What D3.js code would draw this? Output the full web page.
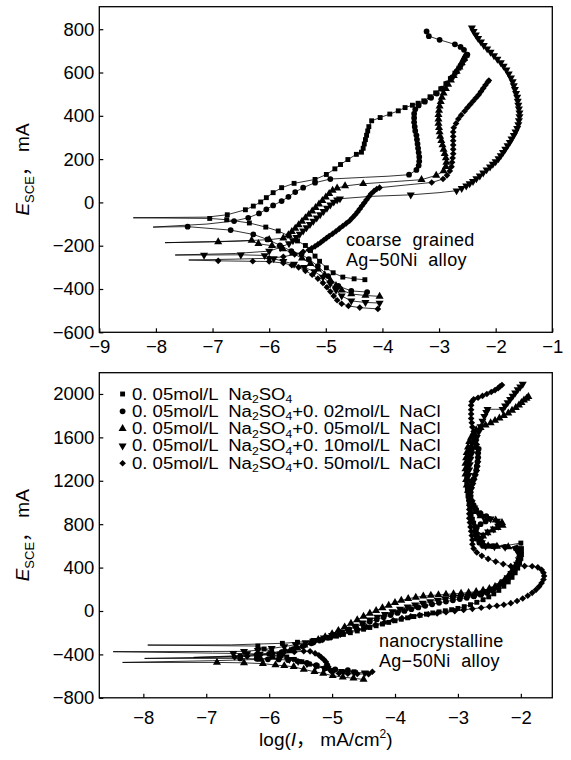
<!DOCTYPE html>
<html><head><meta charset="utf-8">
<script src="https://cdn.jsdelivr.net/npm/d3@7"></script>
<style>
body{margin:0;background:#fff}
svg{display:block}
text{font-family:"Liberation Sans",Arial,"Noto Sans CJK SC",sans-serif;fill:#000}
</style>
</head><body>
<svg id="chart" width="571" height="760"></svg>
<script>
// ---------- tick labels ----------
const topXTicks = [-9,-8,-7,-6,-5,-4,-3,-2,-1];
const topYTicks = [-600,-400,-200,0,200,400,600,800];
const botXTicks = [-8,-7,-6,-5,-4,-3,-2];
const botYTicks = [-800,-400,0,400,800,1200,1600,2000];

// ---------- legend ----------
const legendConc = ["", "+0. 02mol/L  NaCl", "+0. 05mol/L  NaCl", "+0. 10mol/L  NaCl", "+0. 50mol/L  NaCl"];
const symbolTypes = ["square","circle","up","down","diamond"];

// ---------- coarse grained (top) [logI, E, (0 = no marker)] ----------
const coarseSquare = [[-4.31,-357],[-4.5,-353],[-4.7,-345],[-4.87,-325],[-4.99,-302],[-5.11,-272],[-5.19,-248],[-5.27,-222],[-5.36,-199],[-5.5,-178],[-5.65,-155],[-5.84,-132],[-6.06,-114],[-6.35,-95],[-6.75,-80],[-7.05,-74],[-8.4,-71,0],[-7.1,-68,0],[-6.74,-57],[-6.42,-34],[-6.28,-17],[-6.15,2],[-6.05,22],[-5.93,45],[-5.78,68],[-5.56,88],[-5.19,106],[-4.99,129],[-4.84,155],[-4.74,175],[-4.61,198],[-4.46,222],[-4.37,232],[-4.34,250],[-4.32,270],[-4.3,290],[-4.28,310],[-4.26,330],[-4.24,350],[-4.19,377],[-4.04,392],[-3.87,408],[-3.72,423],[-3.6,438],[-3.47,449],[-3.37,458],[-3.27,469],[-3.16,488],[-3.06,506],[-2.97,525],[-2.88,548],[-2.8,572],[-2.72,597],[-2.65,620],[-2.59,643],[-2.54,665],[-2.51,680]];
const coarseCircle = [[-4.27,-414],[-4.55,-409],[-4.78,-386],[-4.96,-340],[-5.14,-294],[-5.3,-262],[-5.43,-240],[-5.61,-225],[-5.81,-198],[-6.03,-171],[-6.28,-148],[-6.68,-128],[-7.44,-112],[-8.05,-114,0],[-7.1,-100,0],[-6.62,-86],[-6.37,-71],[-6.18,-51],[-6.05,-32],[-5.93,-14],[-5.78,6],[-5.66,26],[-5.54,48],[-5.4,68],[-5.19,91],[-4.92,108],[-4.3,116,0],[-3.9,121,0],[-3.53,128],[-3.4,150],[-3.36,170],[-3.35,190],[-3.35,210],[-3.36,230],[-3.37,250],[-3.38,270],[-3.39,290],[-3.4,310],[-3.42,330],[-3.43,350],[-3.44,370],[-3.44,390],[-3.44,410],[-3.42,430],[-3.36,448],[-3.25,465],[-3.14,483],[-3.04,503],[-2.95,525],[-2.86,550],[-2.77,578],[-2.69,605],[-2.62,632],[-2.56,658],[-2.5,683],[-2.56,705],[-2.62,718],[-2.72,730],[-2.99,751],[-3.18,768],[-3.22,790]];
const coarseUp = [[-4.05,-434],[-4.3,-430],[-4.55,-423],[-4.72,-405],[-4.82,-385],[-4.92,-360],[-5.02,-335],[-5.14,-308],[-5.27,-283],[-5.42,-258],[-5.58,-235],[-5.76,-215],[-5.95,-200],[-6.19,-191],[-6.31,-176],[-6.9,-182],[-7.84,-186,0],[-6.5,-178,0],[-6.0,-172],[-5.75,-165],[-5.66,-150],[-5.6,-135],[-5.54,-120],[-5.48,-104],[-5.42,-88],[-5.36,-72],[-5.3,-56],[-5.24,-40],[-5.18,-24],[-5.12,-8],[-5.06,8],[-5.0,24],[-4.94,40],[-4.88,55],[-4.8,66],[-4.66,76],[-4.34,86],[-3.8,96,0],[-3.31,105],[-3.05,125],[-2.92,145],[-2.88,165],[-2.87,185],[-2.88,205],[-2.9,225],[-2.92,245],[-2.94,265],[-2.96,285],[-2.98,305],[-2.99,325],[-3.0,345],[-3.01,365],[-3.01,385],[-3.01,405],[-3.0,425],[-2.99,445],[-2.97,465],[-2.95,485],[-2.92,505],[-2.88,525],[-2.84,545],[-2.79,565],[-2.74,585],[-2.69,605],[-2.64,625],[-2.6,645],[-2.56,665],[-2.53,680]];
const coarseDown = [[-4.05,-465],[-4.3,-462],[-4.55,-455],[-4.72,-432],[-4.82,-405],[-4.92,-375],[-5.05,-345],[-5.2,-320],[-5.38,-300],[-5.56,-285],[-5.75,-272],[-5.92,-260],[-6.08,-245],[-6.5,-242],[-7.15,-243],[-7.66,-243,0],[-6.6,-236,0],[-6.0,-225],[-5.8,-208],[-5.65,-190],[-5.58,-176],[-5.52,-161],[-5.46,-146],[-5.4,-131],[-5.34,-116],[-5.28,-101],[-5.22,-86],[-5.16,-71],[-5.1,-56],[-5.04,-41],[-4.98,-26],[-4.92,-11],[-4.86,2],[-4.8,12],[-4.75,17],[-4.2,28,0],[-3.5,35],[-3.0,45,0],[-2.69,54],[-2.6,65],[-2.52,77],[-2.46,87],[-2.4,97],[-2.34,110],[-2.28,123],[-2.22,137],[-2.16,151],[-2.1,164],[-2.05,177],[-2.0,189],[-1.95,202],[-1.91,216],[-1.87,231],[-1.83,246],[-1.79,262],[-1.75,278],[-1.72,294],[-1.68,310],[-1.65,326],[-1.62,342],[-1.6,360],[-1.59,378],[-1.58,396],[-1.58,414],[-1.59,432],[-1.6,450],[-1.61,468],[-1.62,486],[-1.64,504],[-1.66,522],[-1.68,540],[-1.7,558],[-1.73,576],[-1.77,594],[-1.81,612],[-1.86,630],[-1.91,646],[-1.97,662],[-2.03,678],[-2.09,694],[-2.15,710],[-2.21,726],[-2.26,742],[-2.31,758],[-2.35,774],[-2.39,790],[-2.42,806]];
const coarseDiamond = [[-4.08,-492],[-4.4,-486],[-4.6,-478],[-4.72,-468],[-4.8,-452],[-4.86,-432],[-4.92,-412],[-4.98,-392],[-5.05,-372],[-5.14,-352],[-5.24,-334],[-5.36,-316],[-5.48,-300],[-5.6,-290],[-5.75,-280],[-6.0,-273],[-6.29,-272],[-6.9,-270],[-7.42,-266,0],[-6.6,-262,0],[-6.0,-258],[-5.75,-251],[-5.55,-240],[-5.4,-228],[-5.3,-220],[-5.25,-212],[-5.19,-203],[-5.14,-194],[-5.09,-185],[-5.04,-175],[-4.99,-165],[-4.94,-155],[-4.88,-145],[-4.82,-133],[-4.76,-121],[-4.7,-109],[-4.64,-97],[-4.58,-85],[-4.53,-71],[-4.48,-57],[-4.44,-44],[-4.4,-30],[-4.36,-16],[-4.32,-2],[-4.28,12],[-4.24,26],[-4.2,40],[-4.15,52],[-4.1,62],[-4.05,68],[-3.6,80,0],[-3.13,92],[-2.93,108],[-2.86,125],[-2.81,145],[-2.78,165],[-2.77,185],[-2.76,205],[-2.75,225],[-2.75,245],[-2.75,265],[-2.75,285],[-2.75,305],[-2.75,325],[-2.74,345],[-2.7,365],[-2.66,385],[-2.61,403],[-2.55,421],[-2.5,437],[-2.45,452],[-2.4,467],[-2.35,482],[-2.3,497],[-2.26,512],[-2.22,527],[-2.18,542],[-2.14,556],[-2.12,563]];

// ---------- nanocrystalline (bottom) ----------
const nanoSquare = [[-4.65,-560],[-4.85,-557],[-5.0,-547],[-5.12,-530],[-5.24,-510],[-5.36,-490],[-5.48,-468],[-5.6,-446],[-5.72,-424],[-5.84,-400],[-5.96,-375],[-6.08,-350],[-6.18,-323],[-7.93,-314,0],[-6.6,-312,0],[-5.79,-298],[-5.55,-288],[-5.32,-277],[-5.18,-263],[-5.05,-248],[-4.93,-232],[-4.82,-216],[-4.71,-200],[-4.6,-184],[-4.5,-168],[-4.4,-152],[-4.3,-136],[-4.2,-120],[-4.1,-105],[-4.0,-90],[-3.9,-76],[-3.8,-63],[-3.7,-51],[-3.6,-40],[-3.5,-29],[-3.4,-18],[-3.3,-8],[-3.2,2],[-3.1,12],[-3.0,24],[-2.9,40],[-2.8,58],[-2.7,80],[-2.6,104],[-2.51,130],[-2.43,158],[-2.35,190],[-2.27,228],[-2.2,268],[-2.14,310],[-2.09,352],[-2.05,395],[-2.02,440],[-2.0,485],[-1.99,530],[-1.99,575],[-2.0,626],[-2.2,606,0],[-2.4,600],[-2.52,598],[-2.6,605],[-2.64,635],[-2.67,670],[-2.69,705],[-2.71,740],[-2.73,775],[-2.75,810],[-2.77,845],[-2.79,880],[-2.8,915],[-2.81,950],[-2.82,990],[-2.83,1030],[-2.84,1070],[-2.85,1110],[-2.85,1150],[-2.86,1190],[-2.86,1230],[-2.86,1270],[-2.86,1310],[-2.85,1350],[-2.84,1390],[-2.83,1430],[-2.81,1470],[-2.79,1510],[-2.77,1550],[-2.75,1590],[-2.74,1630]];
const nanoCircle = [[-4.75,-545],[-4.95,-538],[-5.1,-522],[-5.25,-500],[-5.4,-478],[-5.55,-462],[-5.7,-452],[-5.85,-447],[-6.02,-445],[-6.2,-441],[-6.46,-437],[-7.98,-437,0],[-6.9,-425,0],[-6.46,-415],[-6.2,-405],[-6.0,-395],[-5.8,-378],[-5.62,-352],[-5.47,-325],[-5.33,-298],[-5.2,-272],[-5.07,-246],[-4.95,-220],[-4.84,-195],[-4.73,-170],[-4.62,-146],[-4.51,-122],[-4.4,-100],[-4.29,-78],[-4.18,-57],[-4.07,-37],[-3.96,-18],[-3.85,0],[-3.74,17],[-3.63,33],[-3.52,48],[-3.41,62],[-3.3,75],[-3.19,87],[-3.08,99],[-2.97,110],[-2.86,122],[-2.75,135],[-2.64,150],[-2.54,168],[-2.45,190],[-2.36,218],[-2.28,250],[-2.21,287],[-2.15,327],[-2.1,370],[-2.06,415],[-2.03,460],[-2.02,505],[-2.03,550],[-2.08,580],[-2.25,592],[-2.45,597],[-2.6,600],[-2.66,630],[-2.7,665],[-2.72,700],[-2.72,735],[-2.7,770],[-2.64,800],[-2.56,825],[-2.5,850],[-2.55,875],[-2.64,900],[-2.71,935],[-2.75,975],[-2.78,1015],[-2.8,1055],[-2.8,1095],[-2.79,1135],[-2.77,1175],[-2.75,1215],[-2.73,1255],[-2.71,1295],[-2.7,1335],[-2.69,1375],[-2.68,1415],[-2.68,1455],[-2.67,1495]];
const nanoUp = [[-4.5,-631],[-4.66,-620],[-4.83,-609],[-4.99,-597],[-5.14,-575],[-5.28,-560],[-5.45,-538],[-5.61,-514],[-5.76,-505],[-5.9,-498],[-6.1,-485],[-6.4,-478],[-6.83,-474],[-8.33,-474,0],[-6.9,-458,0],[-6.13,-446],[-5.95,-420],[-5.8,-395],[-5.67,-368],[-5.55,-342],[-5.44,-316],[-5.33,-290],[-5.22,-264],[-5.11,-238],[-5.0,-210],[-4.9,-180],[-4.8,-148],[-4.7,-115],[-4.6,-82],[-4.5,-50],[-4.4,-22],[-4.3,4],[-4.2,28],[-4.1,52],[-4.0,76],[-3.9,97],[-3.79,113],[-3.67,126],[-3.55,136],[-3.43,143],[-3.31,148],[-3.19,153],[-3.07,158],[-2.95,163],[-2.83,170],[-2.71,178],[-2.6,190],[-2.5,205],[-2.41,225],[-2.33,252],[-2.26,285],[-2.2,320],[-2.15,360],[-2.1,400],[-2.06,440],[-2.03,480],[-2.01,520],[-2.02,555],[-2.06,578],[-2.2,590],[-2.38,596],[-2.52,600],[-2.6,615],[-2.63,650],[-2.6,690],[-2.53,720],[-2.45,745],[-2.37,768],[-2.29,788],[-2.3,815],[-2.4,838],[-2.53,852],[-2.64,875],[-2.72,915],[-2.77,960],[-2.8,1010],[-2.82,1060],[-2.84,1110],[-2.86,1160],[-2.87,1210],[-2.88,1260],[-2.88,1310],[-2.88,1360],[-2.87,1410],[-2.86,1460],[-2.84,1510],[-2.82,1560],[-2.79,1600],[-2.75,1640],[-2.71,1669],[-2.64,1690],[-2.56,1712],[-2.48,1733],[-2.41,1755],[-2.34,1778],[-2.27,1800],[-2.2,1823],[-2.14,1848],[-2.08,1873],[-2.03,1897],[-1.99,1920],[-1.95,1943],[-1.91,1960],[-1.88,1975]];
const nanoDown = [[-4.48,-569],[-4.65,-567],[-4.82,-561],[-4.98,-548],[-5.12,-530],[-5.26,-508],[-5.4,-486],[-5.54,-465],[-5.68,-445],[-5.82,-425],[-5.96,-408],[-6.15,-397],[-6.35,-393],[-6.57,-391],[-8.48,-375,0],[-6.9,-373,0],[-6.4,-372],[-6.18,-362],[-5.96,-345],[-5.76,-328],[-5.58,-310],[-5.42,-290],[-5.27,-270],[-5.13,-248],[-5.0,-224],[-4.88,-198],[-4.76,-170],[-4.64,-140],[-4.52,-110],[-4.4,-82],[-4.28,-55],[-4.16,-30],[-4.04,-6],[-3.92,17],[-3.8,38],[-3.68,57],[-3.56,73],[-3.44,87],[-3.32,99],[-3.2,109],[-3.08,118],[-2.96,127],[-2.84,137],[-2.72,149],[-2.61,163],[-2.51,181],[-2.42,205],[-2.34,235],[-2.27,270],[-2.21,308],[-2.15,348],[-2.1,390],[-2.06,432],[-2.03,474],[-2.02,515],[-2.03,552],[-2.08,576],[-2.25,588],[-2.42,594],[-2.56,599],[-2.62,630],[-2.64,665],[-2.6,700],[-2.52,730],[-2.43,758],[-2.36,782],[-2.33,805],[-2.38,828],[-2.48,850],[-2.6,873],[-2.68,905],[-2.74,950],[-2.78,1000],[-2.81,1050],[-2.82,1100],[-2.83,1150],[-2.83,1200],[-2.83,1250],[-2.82,1300],[-2.81,1350],[-2.8,1400],[-2.78,1450],[-2.76,1500],[-2.73,1550],[-2.7,1600],[-2.67,1650],[-2.64,1700],[-2.61,1750],[-2.58,1795],[-2.55,1830],[-2.53,1859],[-2.4,1859,0],[-2.29,1859],[-2.25,1890],[-2.21,1920],[-2.17,1950],[-2.13,1980],[-2.09,2010],[-2.05,2040],[-2.01,2066],[-1.97,2092]];
const nanoDiamond = [[-4.36,-560],[-4.42,-582],[-4.6,-580],[-4.75,-578],[-4.89,-575],[-5.0,-565],[-5.04,-540],[-5.06,-515],[-5.08,-490],[-5.1,-468],[-5.13,-448],[-5.17,-428],[-5.21,-408],[-5.27,-390],[-5.35,-372],[-5.45,-370],[-5.6,-378],[-5.78,-390],[-5.96,-400],[-6.15,-410],[-6.35,-418],[-6.55,-425],[-7.2,-428,0],[-6.6,-415,0],[-6.2,-400],[-5.95,-385],[-5.75,-362],[-5.58,-338],[-5.43,-314],[-5.29,-290],[-5.15,-266],[-5.01,-242],[-4.87,-218],[-4.73,-194],[-4.59,-170],[-4.45,-148],[-4.31,-126],[-4.17,-105],[-4.03,-85],[-3.89,-66],[-3.75,-50],[-3.61,-38],[-3.47,-30],[-3.33,-22],[-3.19,-12],[-3.05,-1],[-2.91,10],[-2.77,20],[-2.63,30],[-2.5,40],[-2.38,48],[-2.27,57],[-2.16,72],[-2.06,92],[-1.97,115],[-1.89,140],[-1.82,167],[-1.76,195],[-1.71,225],[-1.67,257],[-1.64,290],[-1.63,322],[-1.64,352],[-1.67,380],[-1.73,402],[-1.82,412],[-1.94,414],[-2.06,412],[-2.16,413],[-2.28,432],[-2.4,455],[-2.52,480],[-2.62,508],[-2.7,540],[-2.75,575],[-2.77,615],[-2.77,655],[-2.78,695],[-2.79,735],[-2.8,775],[-2.81,815],[-2.82,855],[-2.82,895],[-2.82,935],[-2.82,975],[-2.82,1015],[-2.81,1055],[-2.8,1095],[-2.78,1135],[-2.76,1175],[-2.74,1215],[-2.72,1255],[-2.7,1295],[-2.69,1335],[-2.68,1375],[-2.68,1415],[-2.68,1455],[-2.69,1495],[-2.7,1535],[-2.71,1575],[-2.73,1615],[-2.75,1655],[-2.77,1695],[-2.78,1735],[-2.79,1775],[-2.79,1815],[-2.79,1855],[-2.79,1895],[-2.78,1930],[-2.75,1951],[-2.68,1965],[-2.61,1982],[-2.54,2000],[-2.47,2018],[-2.41,2036],[-2.36,2054],[-2.33,2070],[-2.3,2083]];

const topSeries = [coarseSquare, coarseCircle, coarseUp, coarseDown, coarseDiamond];
const botSeries = [nanoSquare, nanoCircle, nanoUp, nanoDown, nanoDiamond];

// ---------- drawing ----------
const svg = d3.select("#chart");
const minus = d => d < 0 ? "\u2212" + Math.abs(d) : String(d);
const LEFT = 99.3, RIGHT = 552.3;

function symbolPath(type) {
  if (type === "square") return d3.symbol(d3.symbolSquare, 24)();
  if (type === "circle") return d3.symbol(d3.symbolCircle, 26)();
  if (type === "up" || type === "down") return d3.symbol(d3.symbolTriangle, 28)();
  return d3.symbol(d3.symbolSquare, 22)();
}
function symbolRot(type) {
  if (type === "down") return " rotate(180)";
  if (type === "diamond") return " rotate(45)";
  return "";
}

function panel(cfg) {
  const x = d3.scaleLinear().domain(cfg.xDomain).range([LEFT, RIGHT]);
  const y = d3.scaleLinear().domain(cfg.yDomain).range([cfg.bottom, cfg.top]);
  const g = svg.append("g");

  const xa = g.append("g").attr("transform", `translate(0,${cfg.bottom})`)
    .call(d3.axisBottom(x).tickValues(cfg.xTicks).tickSize(-4).tickPadding(cfg.xPad).tickFormat(minus));
  const ya = g.append("g").attr("transform", `translate(${LEFT},0)`)
    .call(d3.axisLeft(y).tickValues(cfg.yTicks).tickSize(-4).tickPadding(5).tickFormat(minus));
  [xa, ya].forEach(a => {
    a.select(".domain").remove();
    a.selectAll("line").attr("stroke", "#000").attr("stroke-width", 1.2);
    a.selectAll("text").attr("font-size", 18.5).attr("font-family", "Liberation Sans, Arial, sans-serif").attr("fill", "#000");
  });

  g.append("rect").attr("x", LEFT).attr("y", cfg.top)
    .attr("width", RIGHT - LEFT).attr("height", cfg.bottom - cfg.top)
    .attr("fill", "none").attr("stroke", "#000").attr("stroke-width", 1.3);

  const line = d3.line().x(d => x(d[0])).y(d => y(d[1]));
  cfg.series.forEach((data, i) => {
    g.append("path").attr("d", line(data)).attr("fill", "none")
      .attr("stroke", "#000").attr("stroke-width", 0.8);
    const t = symbolTypes[i];
    g.append("g").selectAll("path").data(data.filter(d => d[2] !== 0)).join("path")
      .attr("d", symbolPath(t))
      .attr("transform", d => `translate(${x(d[0])},${y(d[1])})` + symbolRot(t))
      .attr("fill", "#000");
  });

  // y axis title
  const yt = g.append("text")
    .attr("transform", `translate(29,${(cfg.top + cfg.bottom) / 2}) rotate(-90)`)
    .attr("text-anchor", "middle").attr("font-size", 19).style("white-space", "pre");
  yt.append("tspan").attr("font-style", "italic").text("E");
  yt.append("tspan").attr("font-size", 13).attr("dy", 5).text("SCE");
  yt.append("tspan").attr("dy", -5).text("\uFF0C mA");

  // annotation
  cfg.note.forEach((s, k) => {
    g.append("text").attr("x", cfg.noteX).attr("y", cfg.noteY + k * 20)
      .attr("font-size", 18).attr("letter-spacing", 0.3).style("white-space", "pre").text(s);
  });
  return {x, y, g};
}

panel({
  xDomain: [-9, -1], yDomain: [-600, 904], top: 6.7, bottom: 332.3,
  xTicks: topXTicks, yTicks: topYTicks, xPad: 8, series: topSeries,
  note: ["coarse  grained", "Ag\u221250Ni  alloy"], noteX: 346, noteY: 246
});
panel({
  xDomain: [-8.7, -1.5], yDomain: [-800, 2196], top: 372.7, bottom: 697.8,
  xTicks: botXTicks, yTicks: botYTicks, xPad: 13, series: botSeries,
  note: ["nanocrystalline", "Ag\u221250Ni  alloy"], noteX: 379, noteY: 647
});

// legend (glyphs slightly widened like the original typesetting)
const lg = svg.append("g");
legendConc.forEach((c, i) => {
  const cy = 394 + i * 17.3;
  const t = symbolTypes[i];
  lg.append("path").attr("d", symbolPath(t))
    .attr("transform", `translate(122.6,${cy})` + symbolRot(t)).attr("fill", "#000");
  const tx = lg.append("g").attr("transform", `translate(132,${cy + 5.5}) scale(1.16,1)`)
    .append("text").attr("x", 0).attr("y", 0).attr("font-size", 16).style("white-space", "pre");
  tx.append("tspan").text("0. 05mol/L  Na");
  tx.append("tspan").attr("font-size", 10.5).attr("dy", 3.5).text("2");
  tx.append("tspan").attr("dy", -3.5).text("SO");
  tx.append("tspan").attr("font-size", 10.5).attr("dy", 3.5).text("4");
  if (c) tx.append("tspan").attr("dy", -3.5).text(c);
});

// x axis title (bottom)
const xt = svg.append("text").attr("x", (LEFT + RIGHT) / 2).attr("y", 746).attr("text-anchor", "middle")
  .attr("font-size", 19).style("white-space", "pre");
xt.append("tspan").text("log(");
xt.append("tspan").attr("font-style", "italic").text("I");
xt.append("tspan").text("\uFF0C mA/cm");
xt.append("tspan").attr("font-size", 12).attr("dy", -8).text("2");
xt.append("tspan").attr("dy", 8).text(")");
</script>
</body></html>
